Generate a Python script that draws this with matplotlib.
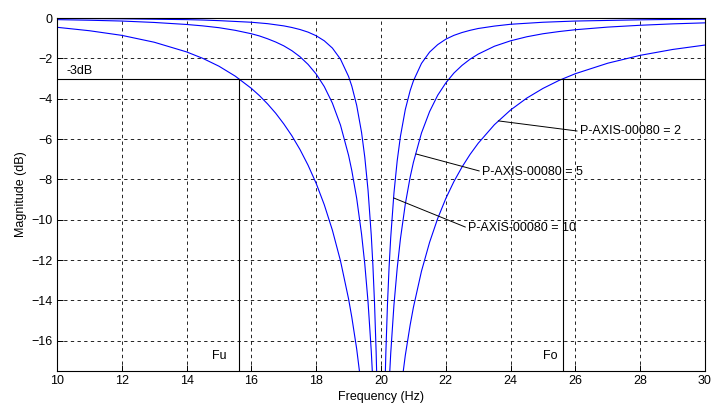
import matplotlib
matplotlib.use("Agg")
import matplotlib.pyplot as plt

plt.rcParams['font.family'] = ['Liberation Sans', 'DejaVu Sans']

# values (dB), one list pair per curve
freq_q2 = [10, 11, 12, 13, 14, 14.5, 15, 15.5, 16, 16.25, 16.5, 16.75, 17, 17.25, 17.5, 17.75,
           18, 18.25, 18.5, 18.75, 19, 19.1, 19.25, 19.4, 19.5,
           20.5, 20.6, 20.75, 20.9, 21, 21.25, 21.5, 21.75, 22, 22.25, 22.5, 22.75, 23, 23.5,
           24, 24.5, 25, 25.5, 26, 27, 28, 29, 30]
mag_q2 = [-0.46, -0.63, -0.86, -1.20, -1.68, -2.00, -2.39, -2.88, -3.49, -3.85, -4.26, -4.72,
          -5.25, -5.84, -6.52, -7.30, -8.20, -9.26, -10.52, -12.04, -13.93, -14.84, -16.41,
          -18.35, -19.93,
          -20.15, -18.60, -16.73, -15.22, -14.35, -12.55, -11.12, -9.94, -8.95, -8.11, -7.39,
          -6.76, -6.21, -5.29, -4.56, -3.97, -3.49, -3.09, -2.76, -2.24, -1.85, -1.56, -1.34]

freq_q5 = [10, 11, 12, 13, 14, 14.5, 15, 15.5, 16, 16.25, 16.5, 16.75, 17, 17.25, 17.5, 17.75,
           18, 18.25, 18.5, 18.75, 19, 19.1, 19.25, 19.4, 19.5, 19.6, 19.7, 19.75, 19.8,
           20.2, 20.25, 20.3, 20.4, 20.5, 20.6, 20.75, 20.9, 21, 21.25, 21.5, 21.75, 22, 22.25,
           22.5, 22.75, 23, 23.5, 24, 24.5, 25, 25.5, 26, 27, 28, 29, 30]
mag_q5 = [-0.08, -0.11, -0.15, -0.22, -0.32, -0.39, -0.48, -0.61, -0.78, -0.89, -1.03, -1.19,
          -1.38, -1.62, -1.92, -2.30, -2.78, -3.40, -4.22, -5.31, -6.81, -7.57, -8.94, -10.71,
          -12.20, -14.07, -16.51, -18.08, -20.0,
          -20.09, -18.18, -16.64, -14.23, -12.41, -10.95, -9.23, -7.89, -7.16, -5.70, -4.64,
          -3.83, -3.22, -2.73, -2.35, -2.04, -1.79, -1.40, -1.13, -0.93, -0.78, -0.67, -0.58,
          -0.45, -0.36, -0.29, -0.24]

freq_q10 = [10, 11, 12, 13, 14, 14.5, 15, 16, 16.5, 17, 17.25, 17.5, 17.75, 18, 18.25, 18.5,
            18.75, 19, 19.1, 19.25, 19.4, 19.5, 19.6, 19.7, 19.75, 19.8, 19.85, 19.875, 19.9,
            20.1, 20.125, 20.15, 20.2, 20.25, 20.3, 20.4, 20.5, 20.6, 20.75, 20.9, 21, 21.25,
            21.5, 21.75, 22, 22.25, 22.5, 22.75, 23, 23.5, 24, 25, 26, 27, 28, 29, 30]
mag_q10 = [-0.02, -0.03, -0.04, -0.06, -0.08, -0.10, -0.13, -0.21, -0.28, -0.39, -0.47, -0.57,
           -0.70, -0.88, -1.13, -1.49, -2.04, -2.90, -3.38, -4.33, -5.67, -6.90, -8.53, -10.77,
           -12.25, -14.11, -16.55, -18.10, -20.02,
           -20.06, -18.16, -16.61, -14.19, -12.35, -10.89, -8.68, -7.08, -5.87, -4.54, -3.60,
           -3.12, -2.25, -1.69, -1.32, -1.05, -0.86, -0.72, -0.61, -0.52, -0.40, -0.31, -0.21,
           -0.15, -0.12, -0.09, -0.07, -0.06]

f_lower = 15.62   # Fu
f_upper = 25.62   # Fo
cutoff_db = -3

xticks = list(range(10, 31, 2))
yticks = list(range(0, -17, -2))

fs = 9

fig = plt.figure(figsize=(7.25, 4.16), dpi=100)
ax = fig.add_axes([0.0786, 0.1082, 0.8938, 0.8485])

for fr, mg in [(freq_q2, mag_q2), (freq_q5, mag_q5), (freq_q10, mag_q10)]:
    ax.plot(fr, mg, color='#0000ff', lw=0.8)

ax.axhline(cutoff_db, color='black', lw=0.8)
ax.plot([f_lower, f_lower], [-17.5, cutoff_db], color='black', lw=0.8)
ax.plot([f_upper, f_upper], [-17.5, cutoff_db], color='black', lw=0.8)

ax.text(10.3, -2.62, '-3dB', fontsize=fs, va='center', ha='left')
ax.text(15.0, -16.76, 'Fu', fontsize=fs, va='center', ha='center')
ax.text(25.22, -16.76, 'Fo', fontsize=fs, va='center', ha='center')

arrow = dict(arrowstyle='-', color='black', lw=0.7, shrinkA=0, shrinkB=0, relpos=(0, 0.5))
ax.annotate('P-AXIS-00080 = 2', xy=(23.62, -5.1), xytext=(26.14, -5.62),
            fontsize=fs, va='center', ha='left', arrowprops=arrow)
ax.annotate('P-AXIS-00080 = 5', xy=(21.08, -6.74), xytext=(23.12, -7.62),
            fontsize=fs, va='center', ha='left', arrowprops=arrow)
ax.annotate('P-AXIS-00080 = 10', xy=(20.39, -8.92), xytext=(22.69, -10.42),
            fontsize=fs, va='center', ha='left', arrowprops=arrow)

ax.set_xlim(10, 30)
ax.set_ylim(-17.5, 0)
ax.set_xticks(xticks)
ax.set_yticks(yticks)
ax.tick_params(direction='in', length=4.5, width=0.7, labelsize=fs, pad=3)
ax.grid(True, color='black', linestyle=(0, (4, 4)), lw=0.6)
for s in ax.spines.values():
    s.set_linewidth(0.8)

ax.set_xlabel('Frequency (Hz)', fontsize=fs, labelpad=3)
ax.set_ylabel('Magnitude (dB)', fontsize=fs, labelpad=3)

fig.savefig('out.png', dpi=100)
